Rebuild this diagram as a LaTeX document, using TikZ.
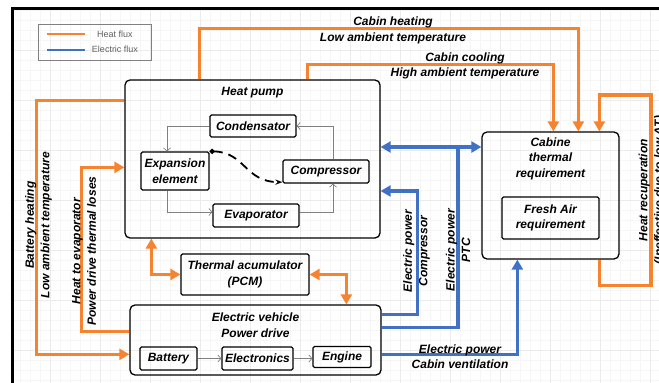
\documentclass[tikz,border=0pt]{standalone}
\usepackage{fontspec}
\setmainfont{Liberation Sans}
\usetikzlibrary{arrows.meta, positioning, calc}
\definecolor{heatorange}{HTML}{F5832F}
\definecolor{elecblue}{HTML}{3F72C4}
\newcommand{\lblfont}{\bfseries\itshape\fontsize{12}{15.5}\selectfont}

\tikzset{
  bigbox/.style={draw, line width=1.3pt, rounded corners=5pt},
  smallbox/.style={draw, line width=1.3pt, rounded corners=1.5pt, font=\lblfont, inner sep=2pt},
  lbl/.style={font=\lblfont, align=center, inner sep=0pt},
  heat/.style={heatorange, line width=3.2pt, -{Triangle[length=10pt,width=11pt]}},
  heatboth/.style={heat, {Triangle[length=10pt,width=11pt]}-{Triangle[length=10pt,width=11pt]}},
  elecline/.style={elecblue, line width=3.2pt},
  elec/.style={elecline, -{Triangle[length=10pt,width=11pt]}},
  elecboth/.style={elecline, {Triangle[length=10pt,width=11pt]}-{Triangle[length=10pt,width=11pt]}},
  cyc/.style={gray, line width=0.7pt, -{Straight Barb[length=3pt,width=7pt]}},
  legtext/.style={font=\fontsize{9}{10}\selectfont, text=gray!75!black, inner sep=0pt}
}

\begin{document}
\begin{tikzpicture}[x=1pt, y=1pt]
  \useasboundingbox (0,0) rectangle (659,-383);
  % background grid and frame
  \draw[gray!7, step=10pt] (12,-8) grid (659,-383);
  \draw[gray!16, step=50pt] (12,-8) grid (659,-383);
  \draw[line width=3pt] (12,-383) -- (12,-8) -- (659,-8);

  % legend
  \node[draw=gray, line width=0.6pt, minimum width=113pt, minimum height=36pt] (legend) at (94.5,-42) {};
  \node[legtext] (legheat) at (115,-34) {Heat flux};
  \node[legtext] (legelec) at (115,-49) {Electric flux};
  \draw[heatorange, line width=2.5pt] (47,-34) -- (85,-34);
  \draw[elecblue, line width=2.5pt] (47,-50) -- (85,-50);

  % heat pump
  \node[bigbox, minimum width=255pt, minimum height=158pt] (hp) at (252.5,-159) {};
  \node[lbl, below=8pt of hp.north] (hptitle) {Heat pump};
  \node[smallbox, minimum width=86pt, minimum height=22pt] (cond) at (253,-126) {Condensator};
  \node[smallbox, minimum width=68pt, minimum height=38pt, align=center] (exp) at (175,-171) {Expansion\\element};
  \node[smallbox, minimum width=86pt, minimum height=23pt] (comp) at (326,-171.5) {Compressor};
  \node[smallbox, minimum width=86pt, minimum height=23pt] (evap) at (256,-215.5) {Evaporator};
  \draw[cyc] ([xshift=7pt]comp.north) |- (cond.east);
  \draw[cyc] (cond.west) -| ([xshift=-8pt]exp.north);
  \draw[cyc] ([xshift=-8pt]exp.south) |- ([yshift=3.5pt]evap.west);
  \draw[cyc] ([yshift=3.5pt]evap.east) -| ([xshift=7pt]comp.south);
  \draw[line width=1.8pt, dash pattern=on 9pt off 6pt, {Circle[length=5pt]}-{Stealth[length=7pt]}]
    (exp.north east) .. controls (245,-152) and (245,-182) .. ([yshift=1.5pt]comp.south west);

  % cabin
  \node[bigbox, minimum width=137pt, minimum height=127pt] (cab) at (550.5,-195.5) {};
  \node[lbl, below=6pt of cab.north] (cabtitle) {Cabine\\thermal\\requirement};
  \node[smallbox, minimum width=97pt, minimum height=42pt, align=center] (fresh) at (550.5,-218) {Fresh Air\\requirement};

  % accumulator and power drive
  \node[smallbox, minimum width=128pt, minimum height=41pt, align=center] (pcm) at (245,-274.5) {Thermal acumulator\\(PCM)};
  \node[bigbox, minimum width=251pt, minimum height=70pt] (ev) at (255.5,-340) {};
  \node[lbl, below=8.5pt of ev.north] (evtitle) {Electric vehicle\\Power drive};
  \node[smallbox, minimum width=57pt, minimum height=23pt] (bat) at (168.5,-358.5) {Battery};
  \node[smallbox, minimum width=71pt, minimum height=23pt] (elx) at (257.5,-358.5) {Electronics};
  \node[smallbox, minimum width=58pt, minimum height=21pt] (eng) at (342,-357) {Engine};
  \draw[cyc] (bat) -- (elx);
  \draw[cyc] (elx.east) -- (elx.east -| eng.west);

  % heat flux
  \draw[heat] ([xshift=75pt]hp.north west) -- ++(0,51pt) -| ([xshift=97pt]cab.north west);
  \node[lbl] (heatlbl) at (393,-30.5) {Cabin heating\\Low ambient temperature};
  \draw[heat] ([xshift=183pt]hp.north west) -- ++(0,15pt) -| ([xshift=72pt]cab.north west);
  \node[lbl] (coollbl) at (465,-66) {Cabin cooling\\High ambient temperature};
  \draw[heat] ([xshift=118pt]cab.south west) -- ++(0,-26pt) -| (651,-95) -| ([xshift=118pt]cab.north west);
  \node[lbl, rotate=90] (recuplbl) at (652,-190) {Heat recuperation\\(Ineffective due to low ΔT)};
  \draw[heat] ([yshift=-21pt]hp.north west) -- ++(-88pt,0) |- ([yshift=-50pt]ev.north west);
  \node[lbl, rotate=90] (batlbl) at (38.5,-225) {Battery heating\\Low ambient temperature};
  \draw[heat] ([yshift=-27pt]ev.north west) -- ++(-48pt,0) |- ([yshift=-88pt]hp.north west);
  \node[lbl, rotate=90] (evaplbl) at (84,-251) {Heat to evaporator\\Power drive thermal loses};
  \draw[heatboth] ([xshift=27pt]hp.south west) |- (pcm.west);
  \draw[heatboth] (pcm.east) -| ([xshift=217pt]ev.north west);

  % electric flux
  \draw[elecboth] ([yshift=12pt]hp.east) coordinate (ptcA) -- (cab.west |- ptcA);
  \coordinate (ptcJ) at (458,-147);
  \draw[elecline] ([yshift=-23pt]ev.north east) -| (ptcJ);
  \node[lbl, rotate=90] (ptclbl) at (458,-250) {Electric power\\PTC};
  \draw[elec] ([yshift=-10pt]ev.north east) -- ++(36pt,0) |- ([yshift=-32pt]hp.east);
  \node[lbl, rotate=90] (complbl) at (416.5,-251) {Electric power\\Compressor};
  \draw[elec] ([yshift=-50pt]ev.north east) -| ([xshift=36pt]cab.south west);
  \node[lbl] (ventlbl) at (460,-356.5) {Electric power\\Cabin ventilation};
\end{tikzpicture}
\end{document}
